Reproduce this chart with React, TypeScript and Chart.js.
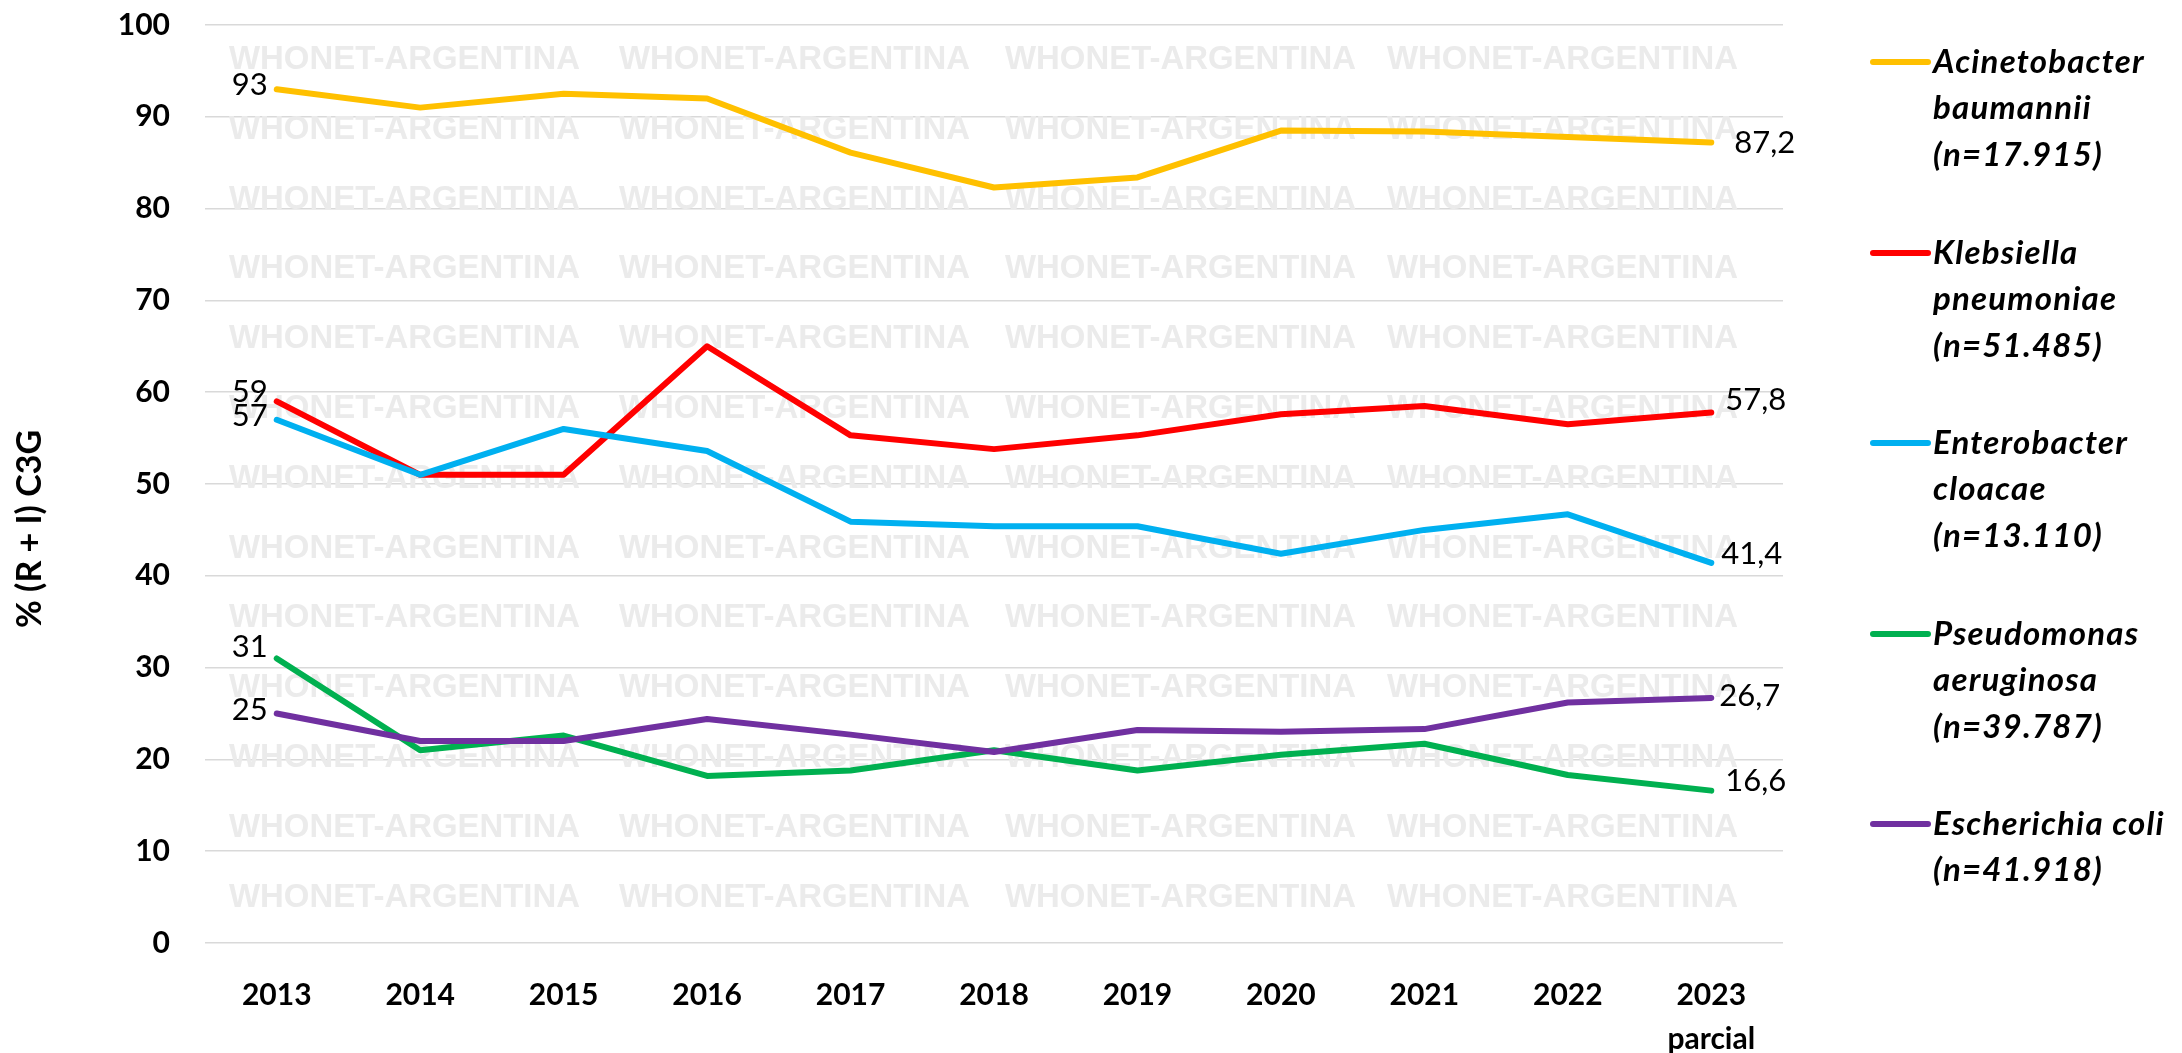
import React, { useEffect, useRef } from 'react';
import { Chart, registerables } from 'chart.js';

Chart.register(...registerables);

const years: (string | string[])[] = ['2013', '2014', '2015', '2016', '2017', '2018', '2019', '2020', '2021', '2022', ['2023', 'parcial']];

const acinetobacter = [93, 91, 92.5, 92, 86.1, 82.3, 83.4, 88.5, 88.4, 87.8, 87.2];
const klebsiella = [59, 51, 51, 65, 55.3, 53.8, 55.3, 57.6, 58.5, 56.5, 57.8];
const enterobacter = [57, 51, 56, 53.6, 45.9, 45.4, 45.4, 42.4, 45, 46.7, 41.4];
const pseudomonas = [31, 21, 22.6, 18.2, 18.8, 21, 18.8, 20.5, 21.7, 18.3, 16.6];
const ecoli = [25, 22, 22, 24.4, 22.7, 20.8, 23.2, 23, 23.3, 26.2, 26.7];

const seriesNames = ['Acinetobacter baumannii', 'Klebsiella pneumoniae', 'Enterobacter cloacae', 'Pseudomonas aeruginosa', 'Escherichia coli'];
const legendLines: string[][] = [
  ['Acinetobacter', 'baumannii', '(n=17.915)'],
  ['Klebsiella', 'pneumoniae', '(n=51.485)'],
  ['Enterobacter', 'cloacae', '(n=13.110)'],
  ['Pseudomonas', 'aeruginosa', '(n=39.787)'],
  ['Escherichia coli', '(n=41.918)'],
];
const colors = ['#FFC000', '#FF0000', '#00B0F0', '#00B050', '#7030A0'];
const yAxisTitle = '% (R + I) C3G';
const watermarkText = 'WHONET-ARGENTINA';

// small nudges for the value labels (pixels)
const lastLabelDx = [23, 14, 10, 14, 8];
const lastLabelDy = [0, -12, -9, -10, -2];
const firstLabelDy = [-4, -9, -4, -11, -4];

const FONT = 'Lato, "Open Sans", "Liberation Sans", sans-serif';

const W = 2182;
const H = 1053;

const fmtLast = (v: number) => v.toFixed(1).replace('.', ',');
const fmtFirst = (v: number) => String(Math.round(v));

const customPlugin = {
  id: 'custom',
  beforeDatasetsDraw(chart: any) {
    const ctx = chart.ctx;
    ctx.save();
    ctx.fillStyle = '#EBEBEB';
    ctx.font = `bold 33px "Liberation Sans", Arial, sans-serif`;
    ctx.textAlign = 'left';
    ctx.textBaseline = 'middle';
    const cols = [229, 619, 1005, 1387];
    for (let r = 0; r < 13; r++) {
      const y = 60 + r * 69.8;
      for (const x of cols) {
        ctx.fillText(watermarkText, x, y, 351);
      }
    }
    ctx.restore();
  },
  afterDatasetsDraw(chart: any) {
    const ctx = chart.ctx;
    ctx.save();
    ctx.fillStyle = '#000';
    ctx.font = `31px ${FONT}`;
    ctx.textBaseline = 'middle';
    chart.data.datasets.forEach((ds: any, i: number) => {
      const meta = chart.getDatasetMeta(i);
      const first = meta.data[0];
      const last = meta.data[meta.data.length - 1];
      ctx.textAlign = 'right';
      ctx.fillText(fmtFirst(ds.data[0]), first.x - 9, first.y + firstLabelDy[i]);
      ctx.textAlign = 'left';
      ctx.fillText(fmtLast(ds.data[ds.data.length - 1]), last.x + lastLabelDx[i], last.y + lastLabelDy[i]);
    });
    ctx.restore();
  },
  afterDraw(chart: any) {
    const ctx = chart.ctx;
    ctx.save();
    // y-axis title
    ctx.translate(30, 529);
    ctx.rotate(-Math.PI / 2);
    ctx.textAlign = 'center';
    ctx.textBaseline = 'middle';
    ctx.fillStyle = '#000';
    ctx.font = `bold 34px ${FONT}`;
    ctx.fillText(yAxisTitle, 0, 0);
    ctx.restore();

    // legend
    ctx.save();
    const groupTops = [62, 253, 443, 634, 824];
    legendLines.forEach((lines, i) => {
      const y0 = groupTops[i];
      ctx.strokeStyle = colors[i];
      ctx.lineWidth = 6;
      ctx.lineCap = 'round';
      ctx.beginPath();
      ctx.moveTo(1873, y0);
      ctx.lineTo(1928, y0);
      ctx.stroke();
      ctx.fillStyle = '#000';
      ctx.font = `italic bold 33px ${FONT}`;
      try { (ctx as any).letterSpacing = '1.2px'; } catch (e) { /* ignore */ }
      ctx.textAlign = 'left';
      ctx.textBaseline = 'middle';
      lines.forEach((t, j) => {
        ctx.fillText(t, 1933, y0 + j * 46.5);
      });
      try { (ctx as any).letterSpacing = '0px'; } catch (e) { /* ignore */ }
    });
    ctx.restore();
  },
};

export default function App() {
  const canvasRef = useRef<HTMLCanvasElement | null>(null);

  useEffect(() => {
    const canvas = canvasRef.current;
    if (!canvas) return;
    const series = [acinetobacter, klebsiella, enterobacter, pseudomonas, ecoli];
    const chart = new Chart(canvas, {
      type: 'line',
      data: {
        labels: years as any,
        datasets: series.map((d, i) => ({
          label: seriesNames[i],
          data: d,
          borderColor: colors[i],
          backgroundColor: colors[i],
          borderWidth: 6,
          pointRadius: 0,
          pointHoverRadius: 0,
          tension: 0,
          fill: false,
          borderJoinStyle: 'round' as const,
          borderCapStyle: 'round' as const,
          order: 5 - i,
        })),
      },
      options: {
        animation: false,
        responsive: false,
        maintainAspectRatio: false,
        devicePixelRatio: 1,
        layout: { padding: { left: 0, right: W - 1783, top: 25, bottom: 0 } },
        plugins: {
          legend: { display: false },
          tooltip: { enabled: false },
          title: { display: false },
        },
        scales: {
          x: {
            type: 'category',
            offset: true,
            grid: { display: false, drawTicks: false },
            border: { display: false },
            ticks: {
              color: '#000',
              font: { family: FONT, size: 30, weight: 'bold', lineHeight: 1.45 },
              padding: 31,
              maxRotation: 0,
              autoSkip: false,
            },
            afterFit(scale: any) {
              scale.height = H - 943;
              scale.paddingLeft = 0;
              scale.paddingRight = 0;
            },
          },
          y: {
            min: 0,
            max: 100,
            ticks: {
              stepSize: 10,
              color: '#000',
              font: { family: FONT, size: 30, weight: 'bold' },
              padding: 35,
            },
            grid: { color: '#D9D9D9', lineWidth: 1.5, drawTicks: false },
            border: { display: false },
            afterFit(scale: any) {
              scale.width = 205;
              scale.paddingTop = 0;
              scale.paddingBottom = 0;
            },
          },
        },
      },
      plugins: [customPlugin],
    });
    return () => chart.destroy();
  }, []);

  return (
    <div style={{ position: 'fixed', left: 0, top: 0, width: W, height: H, background: '#fff' }}>
      <canvas ref={canvasRef} width={W} height={H} style={{ width: W, height: H, display: 'block' }} />
    </div>
  );
}
